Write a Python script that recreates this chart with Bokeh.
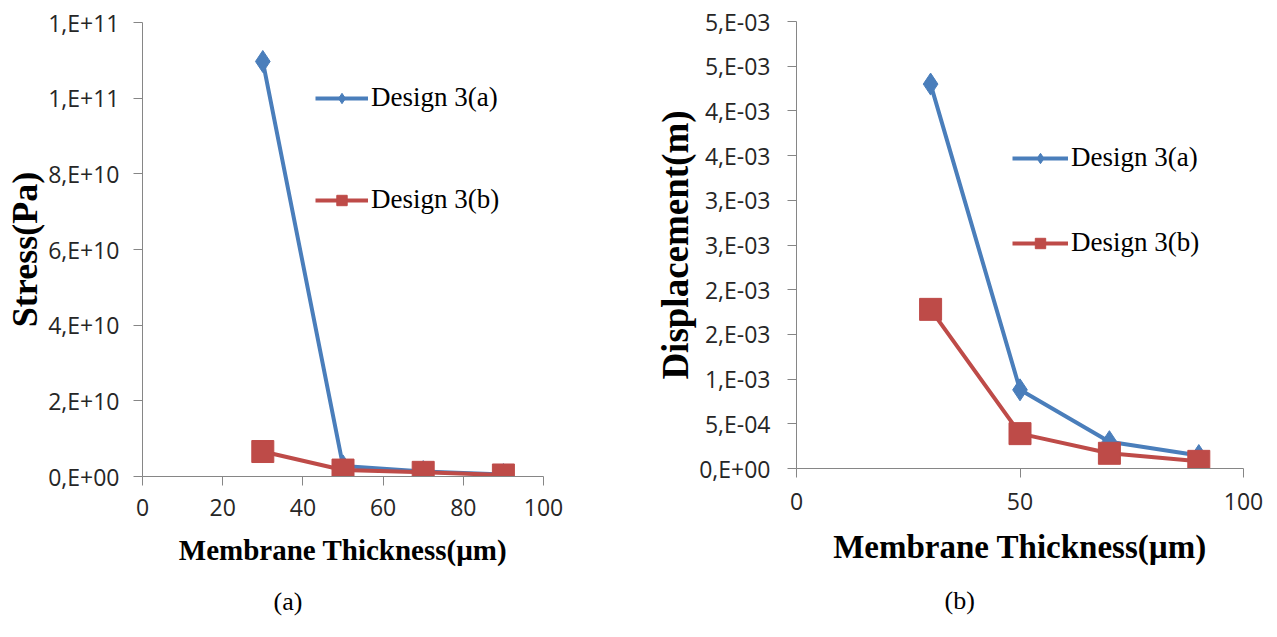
from bokeh.plotting import figure
from bokeh.layouts import row, column
from bokeh.models import (FixedTicker, Range1d, Legend, LegendItem, Title)
from bokeh.embed import file_html
from bokeh.resources import INLINE

# ---- data ----
thickness = [30, 50, 70, 90]

stress_a = [1.097e11, 2.8e9, 1.3e9, 5e8]
stress_b = [6.6e9, 1.7e9, 1.1e9, 4e8]

disp_a = [4.30e-3, 8.8e-4, 3.0e-4, 1.45e-4]
disp_b = [1.78e-3, 3.9e-4, 1.7e-4, 8e-5]

series_names = ["Design 3(a)", "Design 3(b)"]

left_y_ticks = [0, 2e10, 4e10, 6e10, 8e10, 1e11, 1.2e11]
left_y_labels = ["0,E+00", "2,E+10", "4,E+10", "6,E+10", "8,E+10", "1,E+11", "1,E+11"]
left_x_ticks = [0, 20, 40, 60, 80, 100]

right_y_ticks = [0, 5e-4, 1e-3, 1.5e-3, 2e-3, 2.5e-3, 3e-3, 3.5e-3, 4e-3, 4.5e-3, 5e-3]
right_y_labels = ["0,E+00", "5,E-04", "1,E-03", "2,E-03", "2,E-03", "3,E-03",
                  "3,E-03", "4,E-03", "4,E-03", "5,E-03", "5,E-03"]
right_x_ticks = [0, 50, 100]

captions = ["(a)", "(b)"]

BLUE = "#4a7ebb"
RED = "#be4b48"
AXIS = "#868686"
TICKFONT = "Open Sans"
SERIF = "Liberation Serif"


def style_axes(p, tick_size, label_size_x, label_size_y):
    for ax in (p.xaxis[0], p.yaxis[0]):
        ax.axis_line_color = AXIS
        ax.major_tick_line_color = AXIS
        ax.major_tick_in = 0
        ax.major_tick_out = 9
        ax.minor_tick_line_color = None
        ax.major_label_text_font = TICKFONT
        ax.major_label_text_font_size = tick_size
        ax.major_label_text_color = "#262626"
        ax.axis_label_text_font = SERIF
        ax.axis_label_text_font_style = "bold"
        ax.axis_label_text_color = "black"
    p.xaxis[0].axis_label_text_font_size = label_size_x
    p.yaxis[0].axis_label_text_font_size = label_size_y
    p.xgrid.visible = False
    p.ygrid.visible = False
    p.outline_line_color = None


def add_series(p, xs, ya, yb, sq_size, dia_size):
    la = p.line(xs, ya, line_color=BLUE, line_width=4)
    sa = p.scatter(xs, ya, marker="diamond", size=dia_size, fill_color=BLUE, line_color=BLUE)
    lb = p.line(xs, yb, line_color=RED, line_width=4)
    sb = p.scatter(xs, yb, marker="square", size=sq_size, fill_color=RED, line_color=RED)
    return [la, sa], [lb, sb]


def make_legend(ra, rb, loc, spacing, gw):
    lg = Legend(items=[LegendItem(label=series_names[0], renderers=ra),
                       LegendItem(label=series_names[1], renderers=rb)],
                location=loc, spacing=spacing, glyph_width=gw, glyph_height=26,
                label_height=26, label_standoff=3, padding=0, margin=0,
                border_line_color=None, background_fill_alpha=0,
                label_text_font=SERIF, label_text_font_size="27px",
                label_text_color="black")
    return lg


def caption(text, offset, standoff):
    return Title(text=text, align="left", offset=offset, standoff=standoff,
                 text_font=SERIF, text_font_size="26px", text_font_style="normal",
                 text_color="black")


# ---- left chart ----
p1 = figure(width=640, height=629, output_backend="svg", toolbar_location=None,
            x_range=Range1d(0, 100), y_range=Range1d(0, 1.2e11),
            frame_width=401, frame_height=454,
            min_border_left=142, min_border_right=97, min_border_top=22,
            min_border_bottom=153)
p1.xaxis.ticker = FixedTicker(ticks=left_x_ticks)
p1.yaxis.ticker = FixedTicker(ticks=left_y_ticks)
p1.yaxis.major_label_overrides = {v: s for v, s in zip(left_y_ticks, left_y_labels)}
p1.xaxis.axis_label = "Membrane Thickness(µm)"
p1.yaxis.axis_label = "Stress(Pa)"
style_axes(p1, "23px", "29px", "36px")
p1.yaxis.major_label_standoff = 14
p1.yaxis.axis_label_standoff = 0
p1.xaxis.major_label_standoff = 13
p1.xaxis.axis_label_standoff = 15
ra, rb = add_series(p1, thickness, stress_a, stress_b, 22, 22)
p1.add_layout(make_legend(ra, rb, (173, 261), 71, 53))
p1.add_layout(caption(captions[0], 131, 33), "below")

# ---- right chart ----
p2 = figure(width=629, height=629, output_backend="svg", toolbar_location=None,
            x_range=Range1d(0, 100), y_range=Range1d(0, 5e-3),
            frame_width=447, frame_height=447,
            min_border_left=156, min_border_right=26, min_border_top=21,
            min_border_bottom=161)
p2.xaxis.ticker = FixedTicker(ticks=right_x_ticks)
p2.yaxis.ticker = FixedTicker(ticks=right_y_ticks)
p2.yaxis.major_label_overrides = {v: s for v, s in zip(right_y_ticks, right_y_labels)}
p2.xaxis.axis_label = "Membrane Thickness(µm)"
p2.yaxis.axis_label = "Displacement(m)"
style_axes(p2, "23px", "33px", "37px")
p2.yaxis.major_label_standoff = 17
p2.yaxis.axis_label_standoff = 0
p2.xaxis.major_label_standoff = 15
p2.xaxis.axis_label_standoff = 16
ra2, rb2 = add_series(p2, thickness, disp_a, disp_b, 22, 22)
p2.add_layout(make_legend(ra2, rb2, (216, 210), 54, 56))
p2.add_layout(caption(captions[1], 148, 33), "below")

layout = row(column(p1), column(p2), spacing=0)
open("out.html", "w").write(file_html(layout, INLINE))
